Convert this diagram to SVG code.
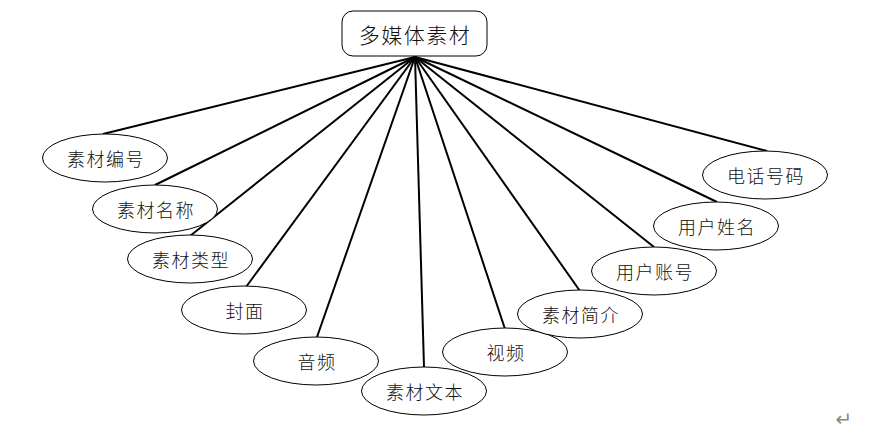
<svg xmlns="http://www.w3.org/2000/svg" width="876" height="440" viewBox="0 0 876 440">
<style>
.n ellipse, .n rect { fill: #ffffff; stroke: #000000; stroke-width: 1; }
.n text { font-family: "Noto Sans CJK SC", "Noto Sans", sans-serif; font-weight: 300; font-size: 18px; letter-spacing: 1.5px; fill: #111111; text-anchor: middle; dominant-baseline: central; }
#root text { font-size: 21px; letter-spacing: 1.5px; }
#edges line { stroke: #000000; stroke-width: 2; }
</style>
<rect width="876" height="440" fill="#ffffff"/>
<g id="edges">
<line x1="415" y1="57" x2="103" y2="134"/>
<line x1="415" y1="57" x2="155" y2="185"/>
<line x1="415" y1="57" x2="190" y2="236"/>
<line x1="415" y1="57" x2="246" y2="287"/>
<line x1="415" y1="57" x2="317" y2="337"/>
<line x1="415" y1="57" x2="424" y2="367"/>
<line x1="415" y1="57" x2="505" y2="329"/>
<line x1="415" y1="57" x2="580" y2="291"/>
<line x1="415" y1="57" x2="654" y2="247"/>
<line x1="415" y1="57" x2="717" y2="202"/>
<line x1="415" y1="57" x2="767" y2="151"/>
</g>
<g id="root" class="n"><rect x="342" y="11" width="145" height="45" rx="11"/><text x="415" y="34">多媒体素材</text></g>
<g id="n1" class="n"><ellipse cx="105" cy="158" rx="62.5" ry="24"/><text x="106" y="158">素材编号</text></g>
<g id="n2" class="n"><ellipse cx="155" cy="209" rx="62.5" ry="24"/><text x="156" y="209">素材名称</text></g>
<g id="n3" class="n"><ellipse cx="190" cy="259" rx="62.5" ry="24"/><text x="191" y="259">素材类型</text></g>
<g id="n4" class="n"><ellipse cx="244" cy="310" rx="62.5" ry="24"/><text x="245" y="310">封面</text></g>
<g id="n5" class="n"><ellipse cx="316" cy="361" rx="62.5" ry="24"/><text x="317" y="361">音频</text></g>
<g id="n6" class="n"><ellipse cx="424" cy="391" rx="62.5" ry="24"/><text x="425" y="391">素材文本</text></g>
<g id="n7" class="n"><ellipse cx="505" cy="352" rx="62.5" ry="24"/><text x="506" y="352">视频</text></g>
<g id="n8" class="n"><ellipse cx="580" cy="314" rx="62.5" ry="24"/><text x="581" y="314">素材简介</text></g>
<g id="n9" class="n"><ellipse cx="654" cy="271" rx="62.5" ry="24"/><text x="655" y="271">用户账号</text></g>
<g id="n10" class="n"><ellipse cx="716" cy="226" rx="62.5" ry="24"/><text x="717" y="226">用户姓名</text></g>
<g id="n11" class="n"><ellipse cx="765" cy="175" rx="62.5" ry="24"/><text x="766" y="175">电话号码</text></g>
<text x="844" y="419" font-family="DejaVu Sans, sans-serif" font-size="20" fill="#888888" text-anchor="middle" dominant-baseline="central">↵</text>
</svg>
